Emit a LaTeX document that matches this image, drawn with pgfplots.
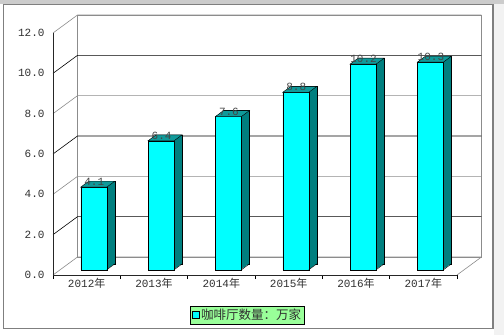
\documentclass[border=0pt]{standalone}
\usepackage{pgfplots}
\usepackage{pgfplotstable}
\pgfplotsset{compat=1.18}
\usepackage{fontspec}
\setmainfont{Liberation Mono}
\newfontfamily\cjk{Noto Sans CJK SC}

\definecolor{barfront}{HTML}{00FFFF}
\definecolor{barside}{HTML}{007F7F}
\definecolor{bartop}{HTML}{109A9A}
\definecolor{legendbg}{HTML}{99FF99}
\definecolor{framegray}{HTML}{7F7F7F}
\definecolor{wallgray}{HTML}{8C8C8C}
\definecolor{labelgray}{HTML}{303030}
\definecolor{valuegray}{HTML}{454545}

% top face of a column (front edge centred on the data point)
\pgfdeclareplotmark{coltop}{%
  \pgfpathmoveto{\pgfpoint{-13pt}{0pt}}%
  \pgfpathlineto{\pgfpoint{13pt}{0pt}}%
  \pgfpathlineto{\pgfpoint{21pt}{5.9pt}}%
  \pgfpathlineto{\pgfpoint{-5pt}{5.9pt}}%
  \pgfpathclose
  \pgfusepathqfillstroke}
% lower edge of the side face of a column
\pgfdeclareplotmark{colfoot}{%
  \pgfpathmoveto{\pgfpoint{13pt}{0pt}}%
  \pgfpathlineto{\pgfpoint{21pt}{5.9pt}}%
  \pgfusepathqstroke}

\pgfplotstableread{
x   v
0.5 4.1
1.5 6.4
2.5 7.6
3.5 8.8
4.5 10.2
5.5 10.3
}\cafes

\begin{document}
\begin{tikzpicture}
\useasboundingbox (0,0) rectangle (504pt,335pt);
\fill[white] (0,0) rectangle (504pt,335pt);
\fill[gray!40] (0,330.5pt) rectangle (504pt,335pt);
\fill[gray!10] (494pt,0) rectangle (504pt,330.5pt);
\draw[framegray, line width=1.3pt] (3.5pt,6.5pt) rectangle (493pt,330.5pt);

\begin{axis}[
  at={(53pt,60pt)}, anchor=south west,
  scale only axis, width=404pt, height=242pt,
  xmin=0, xmax=6, ymin=0, ymax=12,
  clip=false,
  axis line style={draw=none},
  xtick pos=left, ytick pos=left,
  major tick length=0pt,
  ytick={0,2,...,12},
  xtick={0.5,1.5,2.5,3.5,4.5,5.5},
  xticklabels={2012{\cjk 年},2013{\cjk 年},2014{\cjk 年},2015{\cjk 年},2016{\cjk 年},2017{\cjk 年}},
  extra x ticks={0,1,2,3,4,5,6},
  extra x tick labels={},
  extra x tick style={major tick length=4pt, tick align=outside,
    major tick style={draw=black, line width=0.6pt}},
  /pgf/number format/assume math mode=true,
  tick label style={font=\fontsize{11}{12}\selectfont, text=labelgray},
  y tick label style={/pgf/number format/fixed, /pgf/number format/fixed zerofill,
    /pgf/number format/precision=1, xshift=-5pt},
  legend style={at={(0.4814,-0.165)}, anchor=center, fill=legendbg, draw=black,
    line width=0.6pt, font=\cjk\fontsize{12.5}{14}\selectfont, inner sep=1pt,
    text=labelgray},
]

% back wall and floor
\draw[wallgray, line width=0.6pt]
  ([shift={(24.5pt,18pt)}]axis cs:0,0) -- ([shift={(24.5pt,18pt)}]axis cs:0,12)
  -- ([shift={(24.5pt,18pt)}]axis cs:6,12) -- ([shift={(24.5pt,18pt)}]axis cs:6,0)
  -- ([shift={(24.5pt,18pt)}]axis cs:0,0);
\draw[wallgray, line width=0.6pt] (axis cs:6,0) -- ([shift={(24.5pt,18pt)}]axis cs:6,0);
\pgfplotsinvokeforeach{0,4,8,12}{
  \draw[wallgray, line width=0.6pt] (axis cs:0,#1) -- ([shift={(24.5pt,18pt)}]axis cs:0,#1)
    -- ([shift={(24.5pt,18pt)}]axis cs:6,#1);
}
\pgfplotsinvokeforeach{2,6,10}{
  \draw[black, line width=0.6pt] (axis cs:0,#1) -- ([shift={(24.5pt,18pt)}]axis cs:0,#1)
    -- ([shift={(24.5pt,18pt)}]axis cs:6,#1);
}
% front edges
\draw[black!85, line width=0.6pt] (axis cs:0,12) -- (axis cs:0,0) -- (axis cs:6,0);

% column bodies: side face swept from back to front
\addplot[ybar, bar width=26pt, bar shift=0pt, fill=barside, draw=black, line width=0.4pt,
  xshift=15.1pt, yshift=11.1pt, forget plot] table[x=x,y=v]{\cafes};
\pgfplotsinvokeforeach{7,6,...,1}{
  \addplot[ybar, bar width=26pt, bar shift=0pt, fill=barside, draw=none,
    xshift={7.1pt+#1pt}, yshift={5.2pt+#1*0.7375pt}, forget plot] table[x=x,y=v]{\cafes};
}
% column tops and lower side edges
\addplot[only marks, mark=coltop, mark options={fill=bartop, draw=black, line width=0.4pt},
  xshift=7.1pt, yshift=5.2pt, forget plot] table[x=x,y=v]{\cafes};
\addplot[only marks, mark=colfoot, mark options={draw=black, line width=0.4pt},
  xshift=7.1pt, yshift=5.2pt, forget plot] table[x=x,y expr=0]{\cafes};
% column fronts with value labels
\addplot[ybar, bar width=26pt, bar shift=0pt, fill=barfront, draw=black, line width=0.4pt,
  xshift=7.1pt, yshift=5.2pt, forget plot,
  nodes near coords, nodes near coords align=center,
  every node near coord/.append style={font=\fontsize{11}{12}\selectfont,
    text=valuegray, yshift=5pt, xshift=0.5pt, inner sep=0pt}]
  table[x=x,y=v]{\cafes};

\addlegendimage{legend image code/.code={
  \draw[fill=barfront, draw=black, line width=0.5pt] (0pt,-3.5pt) rectangle (7pt,3.5pt);}}
\addlegendentry{咖啡厅数量：万家}
\end{axis}
\end{tikzpicture}
\end{document}
